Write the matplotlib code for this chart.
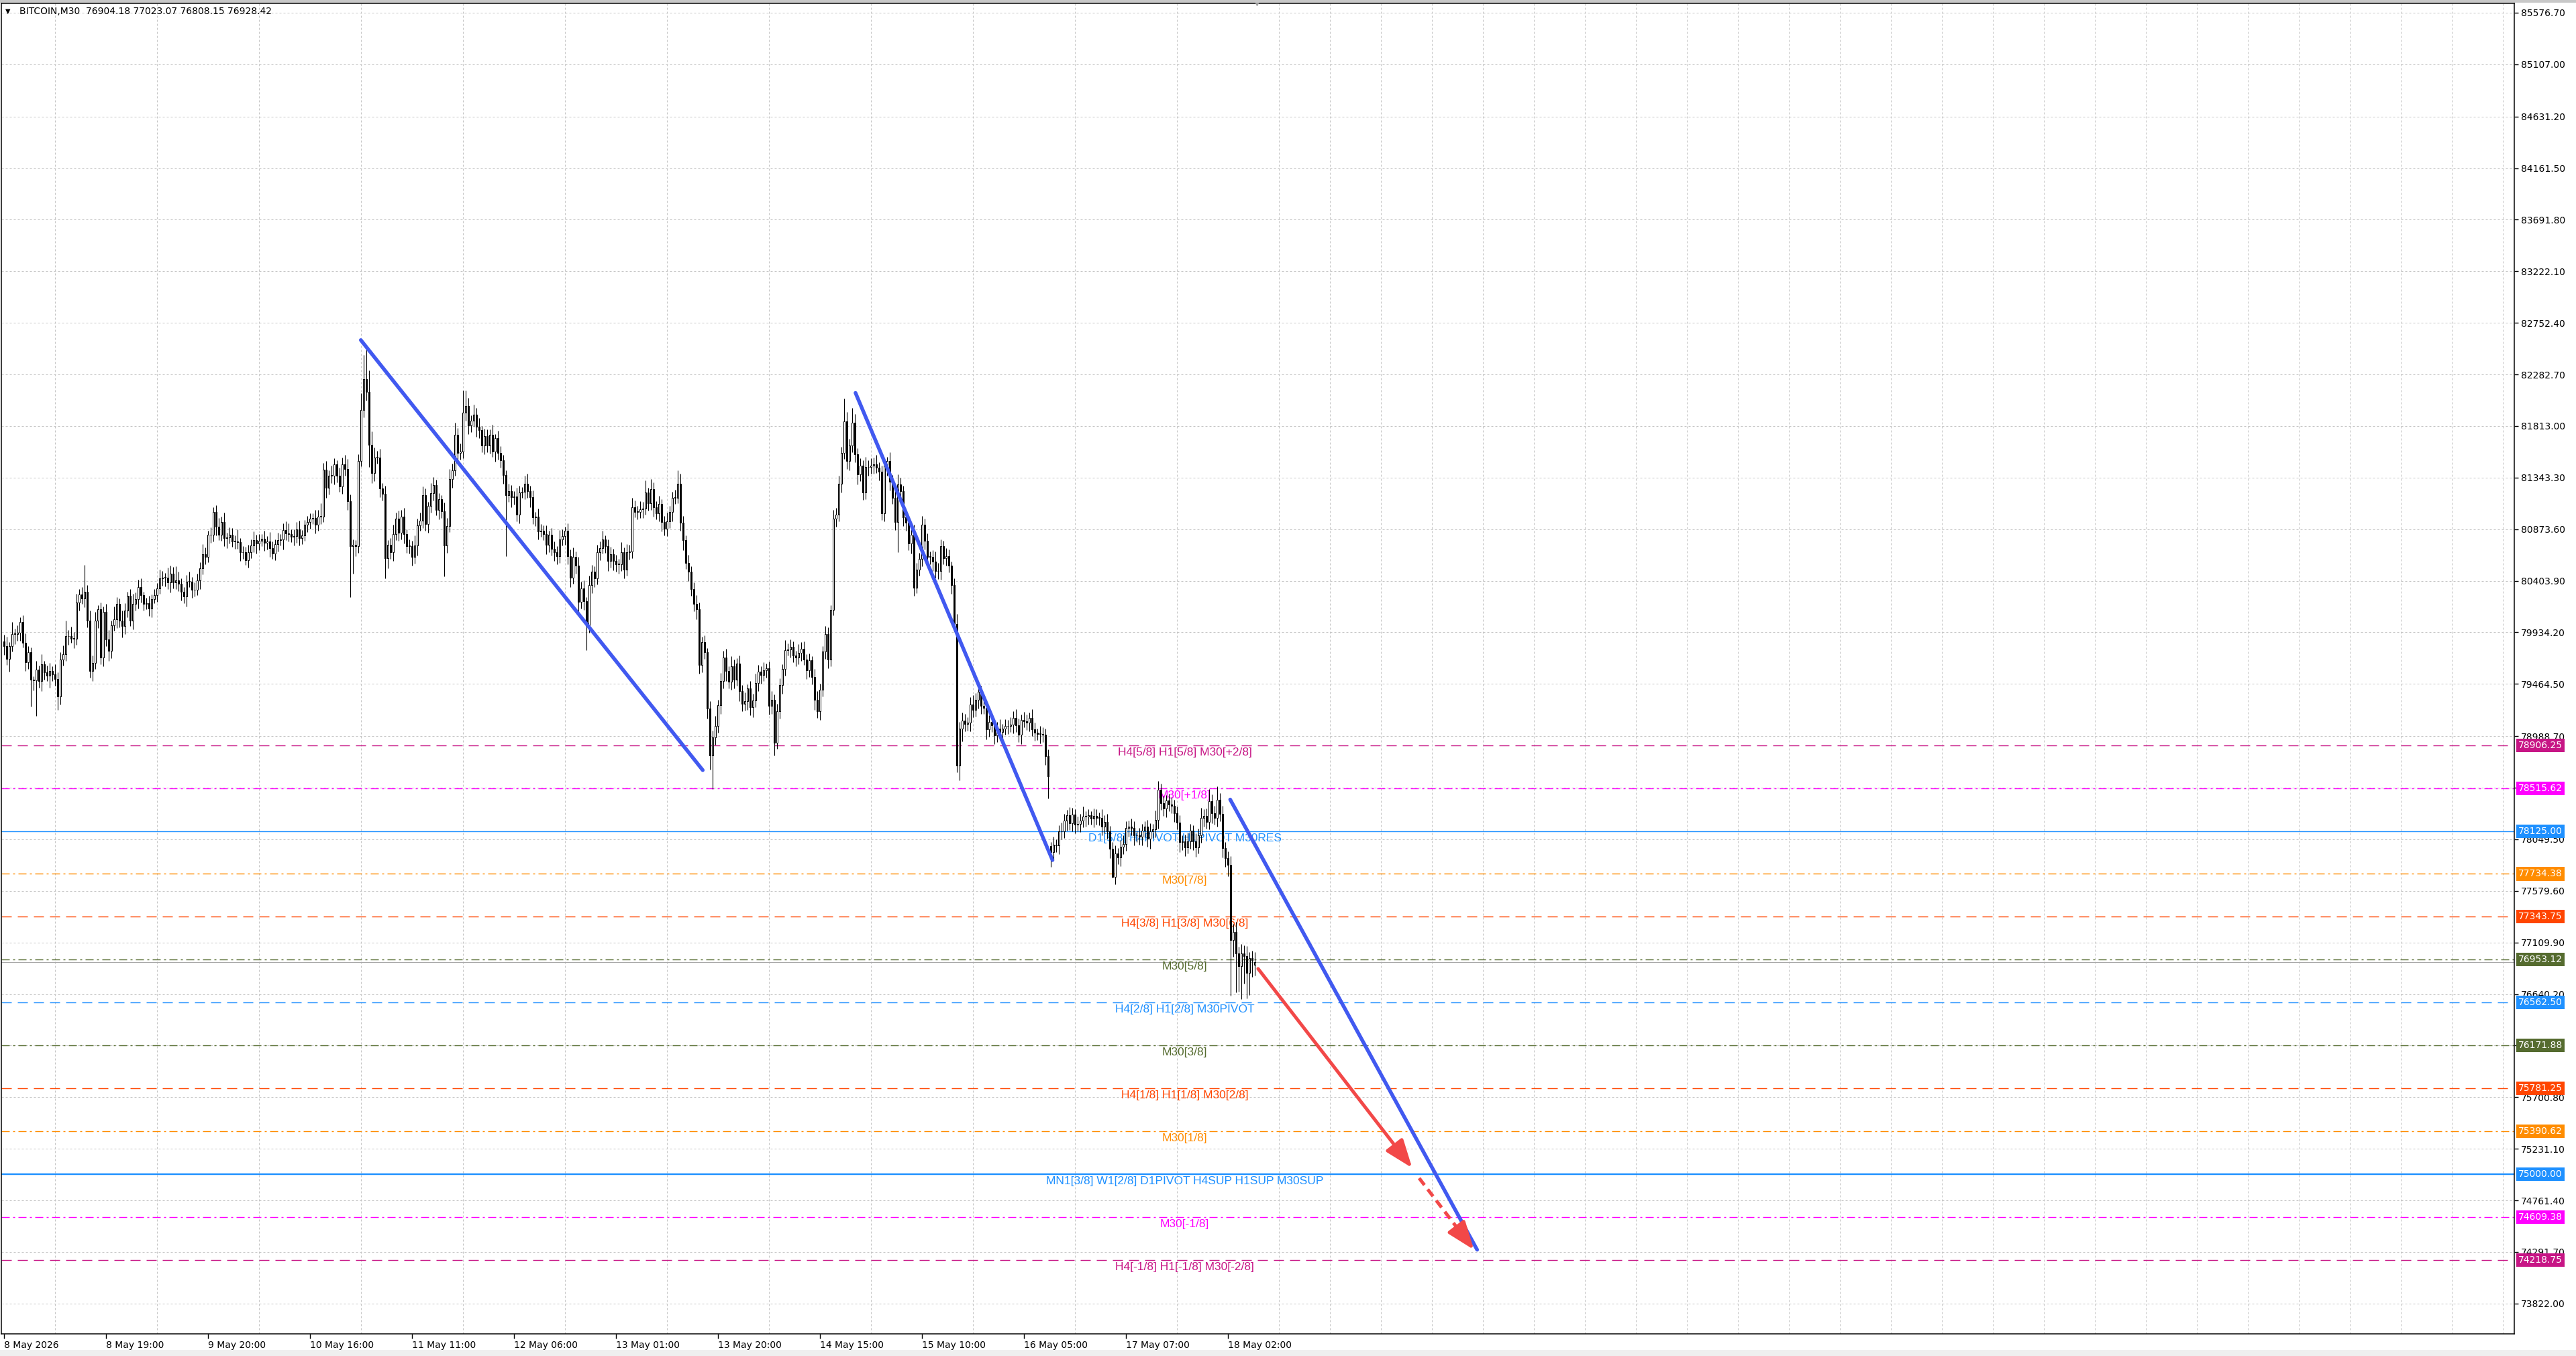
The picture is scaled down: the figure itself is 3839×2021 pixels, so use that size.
import numpy as np
import matplotlib
matplotlib.use("Agg")
import matplotlib.pyplot as plt
from matplotlib.transforms import blended_transform_factory
from matplotlib.patches import Rectangle

plt.rcParams['lines.scale_dashes'] = False
plt.rcParams['font.family'] = ['DejaVu Sans']

W, H, DPI = 3839, 2021, 100
PX = 72.0 / DPI  # points per pixel

# ---- M30 candles (closes, one row = one grid cell of 19 bars)
close = [
    79807, 79695, 79807, 79919, 79919, 79929, 80031, 79837, 79664, 79756, 79501, 79495, 79593, 79491, 79644, 79573, 79542, 79583, 79552,
    79511, 79348, 79684, 79735, 79898, 79898, 79878, 79878, 80204, 80279, 80245, 80306, 80041, 79583, 79654, 80041, 80143, 79705, 80122,
    79868, 79766, 80000, 80051, 80194, 80041, 79990, 80132, 80265, 80041, 80194, 80238, 80346, 80275, 80194, 80198, 80153, 80238, 80271,
    80336, 80428, 80432, 80434, 80387, 80469, 80387, 80408, 80377, 80306, 80259, 80397, 80397, 80320, 80320, 80408, 80520, 80648, 80622,
    80821, 80821, 81029, 80896, 80825, 80937, 80791, 80801, 80821, 80764, 80764, 80754, 80662, 80662, 80591, 80662, 80723, 80774, 80744,
    80768, 80788, 80748, 80760, 80703, 80652, 80740, 80774, 80780, 80866, 80835, 80829, 80805, 80809, 80870, 80795, 80815, 80917, 80937,
    80968, 80978, 80917, 80988, 80988, 81414, 81250, 81361, 81361, 81462, 81361, 81263, 81467, 81422, 81131, 80720, 80733, 80720, 81494,
    81960, 82238, 82124, 81642, 81382, 81528, 81528, 81245, 81197, 80609, 80733, 80662, 80826, 80972, 80839, 80990, 80831, 80720, 80720,
    80619, 80725, 80911, 80953, 81184, 80919, 81085, 81202, 81276, 81051, 81144, 81038, 80725, 80905, 81329, 81409, 81732, 81568, 81581,
    81933, 81997, 81819, 81859, 81917, 81806, 81774, 81634, 81721, 81634, 81732, 81581, 81700, 81568, 81501, 81369, 81184, 81218, 81165,
    81170, 81006, 81210, 81215, 81290, 81218, 81165, 80980, 80990, 80852, 80858, 80831, 80733, 80821, 80693, 80667, 80627, 80778, 80813,
    80858, 80627, 80434, 80619, 80540, 80211, 80336, 80217, 79991, 80362, 80487, 80428, 80662, 80699, 80778, 80720, 80582, 80646, 80582,
    80556, 80556, 80667, 80508, 80667, 80672, 81076, 81033, 81033, 81057, 81064, 81209, 81112, 81240, 81076, 81016, 81105, 80936, 80878,
    80943, 81028, 81161, 81161, 81289, 80931, 80774, 80569, 80484, 80327, 80194, 80146, 79639, 79844, 79752, 79239, 78810, 78979, 79083,
    79269, 79494, 79704, 79583, 79482, 79627, 79506, 79651, 79397, 79284, 79308, 79421, 79252, 79312, 79470, 79578, 79549, 79590, 79607,
    79264, 79317, 78931, 79216, 79453, 79602, 79771, 79776, 79800, 79723, 79704, 79747, 79784, 79687, 79590, 79680, 79530, 79317, 79216,
    79409, 79760, 79921, 79687, 80139, 80967, 81008, 81289, 81571, 81854, 81492, 81637, 81844, 81554, 81371, 81451, 81209, 81439, 81439,
    81451, 81463, 81434, 81395, 81016, 81451, 81492, 81306, 81161, 80936, 81281, 81221, 80984, 80931, 80743, 80822, 80339, 80508, 80605,
    80912, 80767, 80622, 80622, 80581, 80492, 80496, 80719, 80612, 80629, 80540, 80363, 80013, 78721, 79059, 79131, 79100, 79113, 79275,
    79228, 79319, 79396, 79263, 79249, 79052, 79121, 79086, 78995, 79060, 79026, 79060, 79080, 79084, 79093, 79153, 79086, 79005, 79137,
    79127, 79113, 79153, 79052, 79020, 79011, 79011, 79005, 78809, 78626, 77931, 78002, 77992, 78120, 78124, 78221, 78270, 78195, 78276,
    78185, 78189, 78221, 78256, 78256, 78266, 78241, 78262, 78245, 78245, 78164, 78209, 78124, 77966, 77708, 77921, 77885, 77982, 78006,
    78154, 78168, 78154, 78087, 78083, 78073, 78128, 78164, 78053, 78124, 78140, 78229, 78499, 78377, 78331, 78404, 78367, 78357, 78286,
    78201, 78022, 78033, 77978, 78033, 78128, 78033, 77978, 78087, 78245, 78262, 78209, 78397, 78286, 78245, 78412, 78282, 77972, 77877,
    77816, 77131, 77208, 77013, 76892, 77013, 76985, 76831, 76965, 76948, 76928.42,
]
# wick above / below the body
up_wick = [
    60, 90, 40, 110, 50, 70, 40, 60, 90, 50, 40, 30, 80, 40, 90, 30, 60, 70, 40,
    90, 60, 70, 80, 140, 60, 90, 60, 80, 50, 70, 244, 60, 90, 70, 80, 40, 60, 50,
    70, 90, 40, 120, 60, 50, 90, 70, 40, 60, 90, 60, 70, 80, 30, 50, 70, 40, 60,
    50, 80, 60, 40, 90, 70, 60, 130, 80, 50, 40, 60, 90, 40, 70, 60, 50, 90, 60,
    40, 70, 45, 60, 80, 50, 90, 40, 70, 60, 50, 110, 40, 60, 50, 70, 60, 80, 50,
    60, 40, 70, 50, 90, 60, 40, 70, 50, 60, 80, 90, 40, 60, 70, 80, 50, 40, 60,
    50, 40, 70, 60, 120, 60, 80, 50, 90, 60, 40, 70, 60, 80, 90, 60, 50, 40, 60,
    150, 223, 278, 196, 120, 90, 60, 80, 50, 70, 40, 60, 90, 50, 70, 60, 80, 40, 60,
    50, 90, 60, 70, 80, 60, 40, 90, 70, 50, 60, 40, 80, 70, 90, 60, 110, 60, 70,
    204, 140, 70, 50, 90, 60, 80, 40, 70, 60, 50, 90, 40, 70, 60, 50, 40, 70, 60,
    50, 80, 60, 40, 70, 90, 50, 60, 40, 70, 60, 50, 80, 40, 60, 70, 50, 90, 60,
    40, 70, 60, 90, 50, 80, 60, 70, 40, 90, 60, 50, 70, 60, 80, 40, 60, 70, 50,
    60, 50, 90, 40, 70, 60, 80, 60, 50, 70, 60, 110, 40, 90, 60, 50, 70, 40, 60,
    80, 60, 50, 70, 120, 90, 60, 40, 70, 50, 60, 80, 60, 50, 60, 40, 70, 60, 90,
    50, 70, 60, 80, 40, 90, 60, 50, 70, 60, 80, 40, 70, 60, 90, 60, 50, 70, 40,
    60, 80, 50, 70, 60, 40, 90, 60, 70, 50, 40, 80, 60, 70, 50, 60, 40, 70, 80,
    60, 50, 70, 60, 40, 80, 60, 70, 50, 208, 90, 60, 131, 80, 60, 70, 50, 90, 60,
    70, 60, 90, 50, 60, 70, 40, 80, 60, 70, 90, 60, 50, 80, 60, 70, 90, 60, 50,
    80, 60, 70, 50, 60, 90, 70, 60, 50, 70, 60, 40, 60, 90, 60, 70, 60, 50, 70,
    90, 60, 80, 50, 70, 40, 60, 70, 50, 60, 80, 40, 60, 50, 70, 60, 80, 60, 50,
    70, 60, 50, 80, 60, 40, 70, 60, 50, 60, 36, 70, 50, 60, 80, 60, 50, 70, 60,
    50, 70, 60, 90, 50, 60, 40, 70, 60, 50, 80, 60, 70, 50, 60, 70, 50, 60, 80,
    60, 50, 70, 60, 40, 70, 60, 50, 60, 70, 50, 80, 81, 60, 70, 50, 60, 70, 50,
    60, 70, 50, 60, 80, 60, 50, 70, 60, 90, 60, 70, 110, 60, 70, 120, 60, 70, 50,
    60, 80, 70, 90, 60, 80, 70, 90, 60, 70, 95,
]
dn_wick = [
    80, 60, 120, 50, 90, 60, 70, 40, 80, 60, 244, 90, 319, 60, 90, 70, 50, 110, 60,
    60, 122, 70, 50, 60, 80, 40, 90, 60, 70, 50, 80, 61, 60, 90, 50, 70, 60, 80,
    60, 90, 70, 50, 80, 60, 100, 70, 60, 50, 80, 60, 90, 70, 60, 50, 70, 80, 40,
    60, 50, 70, 80, 60, 90, 50, 60, 70, 80, 60, 90, 50, 70, 60, 50, 80, 60, 70,
    50, 70, 60, 80, 50, 60, 70, 90, 60, 50, 70, 60, 80, 60, 41, 70, 50, 60, 90,
    60, 50, 70, 60, 80, 50, 60, 70, 50, 90, 60, 70, 50, 80, 60, 70, 60, 50, 70,
    60, 50, 80, 60, 70, 50, 90, 60, 70, 80, 60, 50, 70, 60, 80, 464, 250, 90, 60,
    50, 70, 80, 199, 90, 70, 60, 80, 60, 186, 90, 60, 80, 50, 70, 60, 90, 60, 70,
    80, 60, 90, 50, 70, 60, 80, 60, 70, 50, 90, 60, 283, 70, 60, 80, 50, 70, 60,
    60, 70, 80, 60, 50, 90, 70, 60, 80, 60, 70, 50, 90, 60, 70, 80, 557, 60, 90,
    70, 60, 80, 50, 70, 60, 90, 60, 80, 70, 50, 60, 90, 70, 60, 80, 70, 60, 50,
    80, 70, 90, 60, 70, 100, 60, 80, 220, 60, 70, 80, 60, 70, 50, 60, 90, 60, 80,
    70, 90, 60, 80, 60, 70, 60, 50, 70, 60, 80, 60, 70, 60, 90, 50, 70, 80, 60,
    70, 60, 80, 60, 50, 70, 90, 60, 80, 60, 70, 90, 80, 70, 60, 90, 126, 300, 70,
    60, 80, 70, 90, 60, 70, 80, 60, 90, 70, 60, 80, 70, 90, 60, 70, 80, 60, 70,
    80, 70, 121, 60, 70, 80, 60, 50, 70, 60, 80, 60, 70, 50, 80, 60, 70, 90, 60,
    80, 60, 70, 80, 60, 50, 70, 60, 80, 60, 70, 80, 60, 70, 90, 60, 70, 60, 80,
    60, 70, 50, 80, 60, 70, 90, 80, 60, 70, 271, 60, 80, 70, 60, 90, 70, 48, 60,
    70, 80, 60, 70, 90, 60, 70, 80, 60, 70, 60, 80, 70, 60, 133, 120, 70, 60, 80,
    70, 60, 80, 70, 60, 90, 70, 60, 80, 60, 70, 90, 60, 70, 60, 80, 60, 70, 90,
    60, 70, 80, 60, 70, 60, 90, 70, 80, 202, 131, 70, 60, 80, 70, 60, 90, 60, 70,
    80, 60, 70, 60, 90, 70, 60, 80, 60, 70, 80, 60, 70, 90, 10, 70, 60, 80, 70,
    60, 80, 70, 90, 60, 70, 80, 60, 70, 90, 60, 70, 80, 60, 70, 80, 60, 70, 80,
    60, 90, 70, 80, 60, 70, 80, 90, 60, 70, 80, 60, 70, 90, 60, 80, 70, 90, 80,
    100, 507, 150, 358, 230, 300, 250, 231, 200, 150, 96,
]
first_open = 79850
gap_opens = {390: 77986, 466: 76904.18}   # bars that do not open at the previous close

time_labels = ["8 May 2026", "8 May 19:00", "9 May 20:00", "10 May 16:00", "11 May 11:00",
               "12 May 06:00", "13 May 01:00", "13 May 20:00", "14 May 15:00", "15 May 10:00",
               "16 May 05:00", "17 May 07:00", "18 May 02:00"]
bars_per_label = 38

price_ticks = [85576.70, 85107.00, 84631.20, 84161.50, 83691.80, 83222.10, 82752.40, 82282.70,
               81813.00, 81343.30, 80873.60, 80403.90, 79934.20, 79464.50, 78988.70, 78519.00,
               78049.50, 77579.60, 77109.90, 76640.20, 76170.50, 75700.80, 75231.10, 74761.40,
               74291.70, 73822.00]

# Murrey math levels
level_prices = [78906.25, 78515.62, 78125.00, 77734.38, 77343.75, 76953.12, 76562.50,
                76171.88, 75781.25, 75390.62, 75000.00, 74609.38, 74218.75]
level_names = ["H4[5/8] H1[5/8] M30[+2/8]", "M30[+1/8]", "D1[5/8] H4PIVOT H1PIVOT M30RES",
               "M30[7/8]", "H4[3/8] H1[3/8] M30[6/8]", "M30[5/8]", "H4[2/8] H1[2/8] M30PIVOT",
               "M30[3/8]", "H4[1/8] H1[1/8] M30[2/8]", "M30[1/8]",
               "MN1[3/8] W1[2/8] D1PIVOT H4SUP H1SUP M30SUP", "M30[-1/8]",
               "H4[-1/8] H1[-1/8] M30[-2/8]"]
level_colors = ["#C71585", "#FF00FF", "#1E90FF", "#FF8C00", "#FF4500", "#556B2F", "#1E90FF",
                "#556B2F", "#FF4500", "#FF8C00", "#1E90FF", "#FF00FF", "#C71585"]
level_styles = ["dash", "dashdot", "solid", "dashdot", "dash", "dashdot", "dash",
                "dashdot", "dash", "dashdot", "solid", "dashdot", "dash"]

bid = 76928.42
header = "BITCOIN,M30  76904.18 77023.07 76808.15 76928.42"

# drawn objects (bar index, price)
trend_lines = [((133.0, 82596), (260.4, 78679)),
               ((317.3, 82115), (390.7, 77860)),
               ((456.9, 78412), (548.9, 74312))]
arrow_solid = ((467.3, 76871), (524.7, 75057))
arrow_dashed = ((527.3, 74964), (547.7, 74312))

# ---------------------------------------------------------------
n = len(close)
idx = np.arange(n)
opens = [first_open] + close[:-1]
for k, v in gap_opens.items():
    opens[k] = v
opens = np.array(opens, dtype=float)
closes = np.array(close, dtype=float)
body_top = np.maximum(opens, closes)
body_bot = np.minimum(opens, closes)
highs = body_top + np.array(up_wick)
lows = body_bot - np.array(dn_wick)

fig = plt.figure(figsize=(W / DPI, H / DPI), dpi=DPI)
fig.patch.set_facecolor("white")
ax = fig.add_axes([2 / W, 33 / H, 3745 / W, 1983 / H])
ax.set_xlim(-0.925, 935.3)
ax.set_ylim(73546, 85662)

# grid
ax.set_yticks(price_ticks)
ax.set_yticklabels(["%.2f" % p for p in price_ticks])
ax.set_xticks(np.arange(len(time_labels)) * bars_per_label)
ax.set_xticklabels(time_labels)
ax.set_xticks(np.arange(0, 935, 19), minor=True)
grid_style = dict(color="#c4c4c4", linestyle=(0, (3 * PX, 3 * PX)), linewidth=PX)
ax.grid(True, axis="y", which="major", **grid_style)
ax.grid(True, axis="x", which="minor", **grid_style)
ax.grid(False, axis="x", which="major")
ax.set_axisbelow(True)

ax.yaxis.tick_right()
ax.tick_params(axis="y", which="major", length=4, width=1, pad=3, labelsize=10, colors="black")
ax.tick_params(axis="x", which="major", length=5, width=1, pad=2, labelsize=10, colors="black")
ax.tick_params(axis="x", which="minor", length=0)
for lab in ax.get_xticklabels():
    lab.set_ha("left")
for sp in ax.spines.values():
    sp.set_linewidth(1.5 * PX)
    sp.set_color("black")

# level lines
dash_map = {"dash": (0, (15 * PX, 9 * PX)),
            "dashdot": (0, (12 * PX, 5 * PX, 3 * PX, 5 * PX)),
            "solid": "-"}
for p, name, col, st in zip(level_prices, level_names, level_colors, level_styles):
    lw = 2.4 * PX if (st == "solid" and p == 75000.00) else 1.4 * PX
    ax.axhline(p, color=col, linestyle=dash_map[st], linewidth=lw, zorder=1.5)
    ax.annotate(name, xy=(440, p), xytext=(0, -3), textcoords="offset pixels",
                ha="center", va="top", color=col, fontsize=12.5,
                family=["Liberation Sans", "DejaVu Sans"], zorder=2.5)

ax.axhline(bid, color="#a8a8a8", linewidth=1.2 * PX, zorder=1.6)

# candles
ax.vlines(idx, lows, highs, color="black", linewidth=1.1 * PX, zorder=3)
bull = closes >= opens
heights = np.maximum(body_top - body_bot, 4)
ax.bar(idx[bull], heights[bull], bottom=body_bot[bull], width=0.55,
       color="white", edgecolor="black", linewidth=1.0 * PX, zorder=3.2)
ax.bar(idx[~bull], heights[~bull], bottom=body_bot[~bull], width=0.55,
       color="black", edgecolor="black", linewidth=1.0 * PX, zorder=3.2)

# trend lines and arrows
for (x0, y0), (x1, y1) in trend_lines:
    ax.plot([x0, x1], [y0, y1], color="#4159F0", linewidth=5.5 * PX,
            solid_capstyle="round", zorder=5)
red = "#F24848"
ax.annotate("", xy=arrow_solid[1], xytext=arrow_solid[0],
            arrowprops=dict(arrowstyle="-|>,head_length=1.6,head_width=0.6", color=red,
                            lw=5.0 * PX, shrinkA=0, shrinkB=0, mutation_scale=16),
            zorder=5)
# dashed continuation: shaft drawn as a dashed line, head as a short solid arrow
(dx0, dy0), (dx1, dy1) = arrow_dashed
ax.plot([dx0, dx0 + 0.82 * (dx1 - dx0)], [dy0, dy0 + 0.82 * (dy1 - dy0)], color=red,
        linewidth=5.0 * PX, linestyle=(0, (13 * PX, 8 * PX)), solid_capstyle="butt", zorder=5)
ax.annotate("", xy=arrow_dashed[1],
            xytext=(dx0 + 0.8 * (dx1 - dx0), dy0 + 0.8 * (dy1 - dy0)),
            arrowprops=dict(arrowstyle="-|>,head_length=1.6,head_width=0.6", color=red,
                            lw=5.0 * PX, shrinkA=0, shrinkB=0, mutation_scale=16),
            zorder=5)

# price boxes on the right scale
tr = blended_transform_factory(ax.transAxes, ax.transData)
for p, col in zip(level_prices, level_colors):
    ax.text(1.0 + 6 / 3745, p, "%.2f" % p, transform=tr, ha="left", va="center",
            color="white", fontsize=10, clip_on=False, zorder=10,
            bbox=dict(boxstyle="square,pad=0.22", fc=col, ec="none"))

# chart shift marker and header
ax.plot([466.8], [85662], marker="v", markersize=5, color="#a0a0a0",
        clip_on=False, zorder=6)
fig.text(12 / W, 1 - 17 / H, "\u25BC", fontsize=7, va="center", ha="center", color="black")
fig.text(29 / W, 1 - 17 / H, header, fontsize=10, va="center", ha="left", color="black")

# window frame strips
fig.patches.append(Rectangle((0, 1 - 4 / H), 1, 4 / H, transform=fig.transFigure,
                             fc="#c8c8c8", ec="none", zorder=0))
fig.patches.append(Rectangle((0, 0), 1, 9 / H, transform=fig.transFigure,
                             fc="#efefef", ec="none", zorder=0))

fig.savefig("out.png", dpi=DPI)
